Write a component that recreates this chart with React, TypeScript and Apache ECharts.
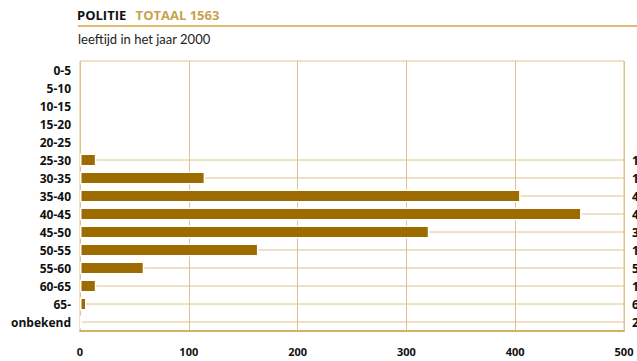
import React, { useEffect, useRef } from "react";
import * as echarts from "echarts";

const categories = ["0-5", "5-10", "10-15", "15-20", "20-25", "25-30", "30-35", "35-40", "40-45", "45-50", "50-55", "55-60", "60-65", "65-", "onbekend"];
const values: (number | null)[] = [null, null, null, null, null, 15, 115, 405, 461, 321, 164, 59, 15, 6, 2];
const xTicks = [0, 100, 200, 300, 400, 500];
const titleMain = "POLITIE";
const titleTotal = "TOTAAL 1563";
const subtitle = "leeftijd in het jaar 2000";

const AXIS_MAX = xTicks[xTicks.length - 1];
const FONT = "'Open Sans', 'Noto Sans', sans-serif";
const BAR = "#9c6c00";
const LINE = "#dcc28c";

export default function App() {
  const ref = useRef<HTMLDivElement>(null);
  useEffect(() => {
    const chart = echarts.init(ref.current!, undefined, { renderer: "svg" });
    const rowLines = values
      .map((v, i) => (v == null ? null : [AXIS_MAX, i]))
      .filter((d) => d !== null);
    chart.setOption({
      animation: false,
      textStyle: { fontFamily: FONT },
      title: {
        left: 77,
        top: 5,
        padding: 0,
        text: `{a|${titleMain}}  {b|${titleTotal}}`,
        textStyle: {
          rich: {
            a: { fontFamily: FONT, fontWeight: "bold", fontSize: 13, color: "#111", lineHeight: 20 },
            b: { fontFamily: FONT, fontWeight: "bold", fontSize: 13, color: "#c9a24e", lineHeight: 20 },
          },
        },
      },
      graphic: [
        { type: "line", shape: { x1: 78, y1: 26, x2: 637, y2: 26 }, style: { stroke: "#d4a63c", lineWidth: 1.5 } },
        { type: "text", x: 78, y: 32, style: { text: subtitle, font: `13px Lato, sans-serif`, fill: "#222" } },
      ],
      grid: { left: 80, right: 13, top: 61, bottom: 30, show: true, borderColor: LINE, borderWidth: 1, outerBoundsMode: "none", containLabel: false },
      xAxis: {
        type: "value",
        min: 0,
        max: AXIS_MAX,
        interval: 100,
        axisLine: { show: true, lineStyle: { color: "#d2b06a", width: 2 } },
        axisTick: { show: false },
        splitLine: { show: true, lineStyle: { color: LINE, width: 1 } },
        axisLabel: { margin: 15, color: "#111", fontWeight: "bold", fontSize: 11, fontFamily: FONT },
      },
      yAxis: [
        {
          type: "category",
          data: categories,
          inverse: true,
          axisLine: { show: false },
          axisTick: { show: false },
          axisLabel: { interval: 0, margin: 9, color: "#111", fontWeight: "bold", fontSize: 12, fontFamily: FONT },
        },
        {
          type: "category",
          data: values.map((v) => (v == null ? "" : String(v))),
          inverse: true,
          position: "right",
          axisLine: { show: false },
          axisTick: { show: false },
          axisLabel: { interval: 0, margin: 8, align: "left", color: "#111", fontWeight: "bold", fontSize: 12, fontFamily: FONT },
        },
      ],
      series: [
        {
          type: "custom",
          z: 1,
          silent: true,
          data: rowLines,
          renderItem: (params: any, api: any) => {
            const a = api.coord([0, api.value(1)]);
            const b = api.coord([api.value(0), api.value(1)]);
            return {
              type: "line",
              shape: { x1: a[0], y1: a[1], x2: b[0], y2: b[1] },
              style: { stroke: LINE, lineWidth: 1 },
            };
          },
        },
        {
          type: "bar",
          z: 3,
          data: values,
          barWidth: 13,
          itemStyle: { color: BAR, borderColor: "#fff", borderWidth: 1.5 },
        },
      ],
    });
    return () => chart.dispose();
  }, []);
  return <div ref={ref} style={{ position: "absolute", left: 0, top: 0, width: 637, height: 361 }} />;
}
